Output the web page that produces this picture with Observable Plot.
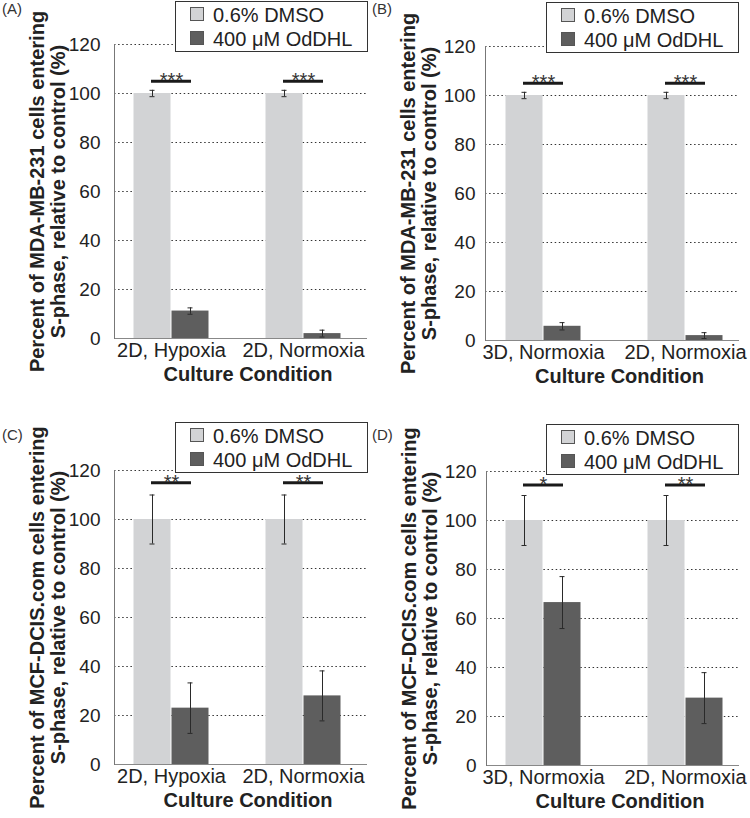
<!DOCTYPE html>
<html>
<head>
<meta charset="utf-8">
<script src="https://cdn.jsdelivr.net/npm/d3@7"></script>
<script src="https://cdn.jsdelivr.net/npm/@observablehq/plot@0.6"></script>
<style>
  html, body { margin: 0; padding: 0; background: #fff; overflow: hidden; }
  #page { position: relative; width: 750px; height: 818px; font-family: "Liberation Sans", Arial, sans-serif; color: #222; }
  .panel { position: absolute; }
  .tag { position: absolute; font-size: 15px; color: #333; }
  .legend { position: absolute; width: 191px; height: 49px; border: 1px solid #333; background: #fff; font-size: 20px; color: #222; }
  .legend .sw { position: absolute; width: 12px; height: 12px; border: 1px solid #555; }
  .legend .lb { position: absolute; line-height: 24px; white-space: nowrap; }
</style>
</head>
<body>
<div id="page"></div>
<script>
// ---------- data ----------
const seriesNames = ["0.6% DMSO", "400 μM OdDHL"];
const seriesColors = ["#d2d3d5", "#5e5e5e"];
const yTicks = [0, 20, 40, 60, 80, 100, 120];
const xTitle = "Culture Condition";

// Panel A
const categoriesA = ["2D, Hypoxia", "2D, Normoxia"];
const dmsoA = [100, 100];
const dmsoErrA = [1.3, 1.3];
const oddhlA = [11.2, 2.0];
const oddhlErrA = [1.3, 1.4];
const sigA = ["***", "***"];
const sigLevelA = [105, 105];
const yTitleA = ["Percent of MDA-MB-231 cells entering", "S-phase, relative to control (%)"];

// Panel B
const categoriesB = ["3D, Normoxia", "2D, Normoxia"];
const dmsoB = [100, 100];
const dmsoErrB = [1.3, 1.3];
const oddhlB = [5.8, 2.0];
const oddhlErrB = [1.5, 1.2];
const sigB = ["***", "***"];
const sigLevelB = [105, 105];
const yTitleB = ["Percent of MDA-MB-231 cells entering", "S-phase, relative to control (%)"];

// Panel C
const categoriesC = ["2D, Hypoxia", "2D, Normoxia"];
const dmsoC = [100, 100];
const dmsoErrC = [10, 10];
const oddhlC = [23, 28];
const oddhlErrC = [10.3, 10.2];
const sigC = ["**", "**"];
const sigLevelC = [115, 115];
const yTitleC = ["Percent of MCF-DCIS.com cells entering", "S-phase, relative to control (%)"];

// Panel D
const categoriesD = ["3D, Normoxia", "2D, Normoxia"];
const dmsoD = [100, 100];
const dmsoErrD = [10.2, 10.2];
const oddhlD = [66.5, 27.5];
const oddhlErrD = [10.6, 10.4];
const sigD = ["*", "**"];
const sigLevelD = [114.5, 114.5];
const yTitleD = ["Percent of MCF-DCIS.com cells entering", "S-phase, relative to control (%)"];

// ---------- drawing ----------
function makePanel(cfg) {
  const rows = cfg.cats.map((c, i) => ({
    cat: c, dmso: cfg.dmso[i], de: cfg.dmsoErr[i], odd: cfg.oddhl[i], oe: cfg.oddhlErr[i],
    sig: cfg.sig[i], sy: cfg.sigLevel[i]
  }));
  const bw = (cfg.xRange[1] - cfg.xRange[0]) / cfg.cats.length;
  const half = bw / 2, barW = 37, gap = 1;
  const off = gap / 2 + barW / 2;
  const cap = 2.5;
  const err = "#2a2a2a";
  return Plot.plot({
    width: 375, height: 390,
    marginTop: 44, marginBottom: 52, marginLeft: cfg.mLeft, marginRight: cfg.mRight,
    x: {type: "band", domain: cfg.cats, range: cfg.xRange, padding: 0, label: null},
    y: {domain: [0, 120], label: null, axis: null},
    style: {fontFamily: "'Liberation Sans', Arial, sans-serif", fontSize: "19px", color: "#222", background: "transparent", overflow: "visible"},
    marks: [
      Plot.ruleY(yTicks.slice(1), {stroke: "#333", strokeDasharray: "1.5,2.6", strokeWidth: 1}),
      Plot.ruleY([0], {stroke: "#888", strokeWidth: 1.2}),
      Plot.frame({anchor: "left", stroke: "#777"}),
      Plot.barY(rows, {x: "cat", y: "dmso", fill: seriesColors[0], insetLeft: half - gap / 2 - barW, insetRight: half + gap / 2}),
      Plot.barY(rows, {x: "cat", y: "odd", fill: seriesColors[1], insetLeft: half + gap / 2, insetRight: half - gap / 2 - barW}),
      Plot.ruleX(rows, {x: "cat", y1: d => d.dmso - d.de, y2: d => d.dmso + d.de, dx: -off, stroke: err}),
      Plot.tickY(rows, {x: "cat", y: d => d.dmso - d.de, insetLeft: half - off - cap, insetRight: half + off - cap, stroke: err}),
      Plot.tickY(rows, {x: "cat", y: d => d.dmso + d.de, insetLeft: half - off - cap, insetRight: half + off - cap, stroke: err}),
      Plot.ruleX(rows, {x: "cat", y1: d => d.odd - d.oe, y2: d => d.odd + d.oe, dx: off, stroke: err}),
      Plot.tickY(rows, {x: "cat", y: d => d.odd - d.oe, insetLeft: half + off - cap, insetRight: half - off - cap, stroke: err}),
      Plot.tickY(rows, {x: "cat", y: d => d.odd + d.oe, insetLeft: half + off - cap, insetRight: half - off - cap, stroke: err}),
      Plot.tickY(rows, {x: "cat", y: "sy", insetLeft: half - 20, insetRight: half - 20, stroke: "#1a1a1a", strokeWidth: 3}),
      Plot.text(rows, {x: "cat", y: "sy", text: "sig", lineAnchor: "bottom", dy: 6, fontSize: 20, fill: "#333"}),
      Plot.text(yTicks, {y: d => d, text: d => String(d), frameAnchor: "left", textAnchor: "end", lineAnchor: "middle", dx: -cfg.tickPad, fontSize: 19, fill: "#222"}),
      Plot.axisX({tickSize: 0, tickPadding: 4, fontSize: 20, label: null}),
      Plot.text([xTitle], {text: d => d, frameAnchor: "bottom", textAnchor: "middle", lineAnchor: "bottom", dy: 42, dx: 7, fontSize: 20, fontWeight: "bold", fill: "#222"}),
      Plot.text([cfg.yTitle.join("\n")], {text: d => d, frameAnchor: "left", textAnchor: "middle", rotate: -90, lineAnchor: "middle", dx: -67, fontSize: 20, lineHeight: 1.05, fontWeight: "bold", fill: "#222"})
    ]
  });
}

const page = document.getElementById("page");

function addPanel(cfg) {
  const div = document.createElement("div");
  div.className = "panel";
  div.style.left = cfg.left + "px";
  div.style.top = cfg.top + "px";
  div.appendChild(makePanel(cfg));
  page.appendChild(div);

  const tag = document.createElement("div");
  tag.className = "tag";
  tag.textContent = cfg.tag;
  tag.style.left = cfg.tagX + "px";
  tag.style.top = cfg.tagY + "px";
  page.appendChild(tag);

  const lg = document.createElement("div");
  lg.className = "legend";
  lg.style.left = cfg.lgX + "px";
  lg.style.top = cfg.lgY + "px";
  seriesNames.forEach((name, i) => {
    const sw = document.createElement("div");
    sw.className = "sw";
    sw.style.left = "14px";
    sw.style.top = (5 + i * 24) + "px";
    sw.style.background = seriesColors[i];
    lg.appendChild(sw);
    const lb = document.createElement("div");
    lb.className = "lb";
    lb.style.left = "37px";
    lb.style.top = (1 + i * 24) + "px";
    lb.textContent = name;
    lg.appendChild(lb);
  });
  page.appendChild(lg);
}

addPanel({left: 0, top: 0, tag: "(A)", tagX: 2, tagY: 0, lgX: 175, lgY: 1,
  cats: categoriesA, dmso: dmsoA, dmsoErr: dmsoErrA, oddhl: oddhlA, oddhlErr: oddhlErrA, sig: sigA, sigLevel: sigLevelA,
  yTitle: yTitleA, xRange: [104.5, 368.5], mLeft: 114, mRight: 8, tickPad: 14});
addPanel({left: 375, top: 2, tag: "(B)", tagX: 372, tagY: 0, lgX: 546, lgY: 2,
  cats: categoriesB, dmso: dmsoB, dmsoErr: dmsoErrB, oddhl: oddhlB, oddhlErr: oddhlErrB, sig: sigB, sigLevel: sigLevelB,
  yTitle: yTitleB, xRange: [96.5, 380.5], mLeft: 110, mRight: 11, tickPad: 10});
addPanel({left: 0, top: 426, tag: "(C)", tagX: 2, tagY: 426, lgX: 175, lgY: 422,
  cats: categoriesC, dmso: dmsoC, dmsoErr: dmsoErrC, oddhl: oddhlC, oddhlErr: oddhlErrC, sig: sigC, sigLevel: sigLevelC,
  yTitle: yTitleC, xRange: [104.5, 368.5], mLeft: 114, mRight: 8, tickPad: 14});
addPanel({left: 375, top: 427, tag: "(D)", tagX: 372, tagY: 426, lgX: 546, lgY: 424,
  cats: categoriesD, dmso: dmsoD, dmsoErr: dmsoErrD, oddhl: oddhlD, oddhlErr: oddhlErrD, sig: sigD, sigLevel: sigLevelD,
  yTitle: yTitleD, xRange: [96.5, 380.5], mLeft: 111, mRight: 11, tickPad: 10});
</script>
</body>
</html>
